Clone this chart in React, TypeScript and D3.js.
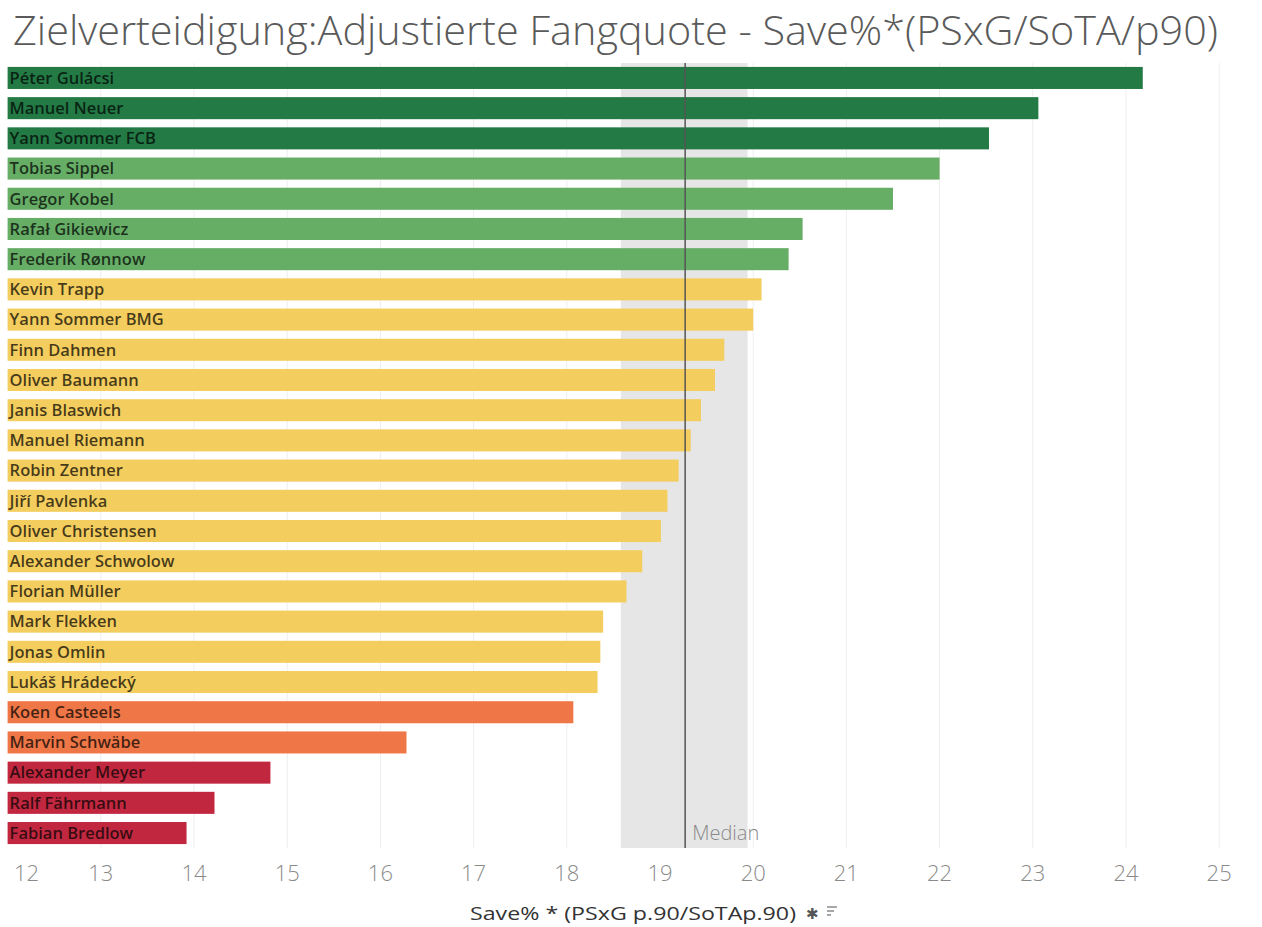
import React from "react";
import * as d3 from "d3";

const title = "Zielverteidigung:Adjustierte Fangquote - Save%*(PSxG/SoTA/p90)";
const axisTitle = "Save% * (PSxG p.90/SoTAp.90)";

const players = [
  "Péter Gulácsi", "Manuel Neuer", "Yann Sommer FCB", "Tobias Sippel", "Gregor Kobel",
  "Rafał Gikiewicz", "Frederik Rønnow", "Kevin Trapp", "Yann Sommer BMG", "Finn Dahmen",
  "Oliver Baumann", "Janis Blaswich", "Manuel Riemann", "Robin Zentner", "Jiří Pavlenka",
  "Oliver Christensen", "Alexander Schwolow", "Florian Müller", "Mark Flekken", "Jonas Omlin",
  "Lukáš Hrádecký", "Koen Casteels", "Marvin Schwäbe", "Alexander Meyer", "Ralf Fährmann",
  "Fabian Bredlow",
];

const values = [
  24.18, 23.06, 22.53, 22.0, 21.5,
  20.53, 20.38, 20.09, 20.0, 19.69,
  19.59, 19.44, 19.33, 19.2, 19.08,
  19.01, 18.81, 18.64, 18.39, 18.36,
  18.33, 18.07, 16.28, 14.82, 14.22,
  13.92,
];

const tiers = [
  "top", "top", "top", "good", "good",
  "good", "good", "mid", "mid", "mid",
  "mid", "mid", "mid", "mid", "mid",
  "mid", "mid", "mid", "mid", "mid",
  "mid", "low", "low", "bad", "bad",
  "bad",
];

const tierNames = ["top", "good", "mid", "low", "bad"];
const tierColors = ["#237a45", "#66ad66", "#f3cd5d", "#ee7647", "#c1283f"];

const medianValue = 19.27;
const bandRange = [18.58, 19.94];
const tickValues = [12, 13, 14, 15, 16, 17, 18, 19, 20, 21, 22, 23, 24, 25];
const domainX = [12, 25.1];

export default function App() {
  const W = 1262;
  const H = 927;
  const x = d3.scaleLinear().domain(domainX).range([7.6, 1228.5]);
  const y = d3
    .scaleBand<string>()
    .domain(players)
    .range([63, 848])
    .paddingInner(0.27)
    .paddingOuter(0.13);
  const color = d3.scaleOrdinal<string, string>().domain(tierNames).range(tierColors);
  const top = 63;
  const bottom = 848;

  return (
    <svg
      width={W}
      height={H}
      style={{ position: "absolute", left: 0, top: 0, background: "#fff" }}
      fontFamily="'Open Sans', sans-serif"
    >
      <text
        x={13}
        y={45}
        fontSize={40}
        fontWeight={300}
        fill="#5a5a5a"
        textLength={1205}
        lengthAdjust="spacingAndGlyphs"
      >
        {title}
      </text>

      {tickValues.slice(1).map((t) => (
        <line key={"g" + t} x1={x(t)} x2={x(t)} y1={top} y2={bottom} stroke="#eeeeee" strokeWidth={1} />
      ))}

      <rect
        x={x(bandRange[0])}
        y={top}
        width={x(bandRange[1]) - x(bandRange[0])}
        height={bottom - top}
        fill="#e6e6e6"
      />

      {players.map((p, i) => (
        <g key={p}>
          <rect
            x={x(12)}
            y={y(p)}
            width={x(values[i]) - x(12)}
            height={y.bandwidth()}
            fill={color(tiers[i])}
          />
          <text
            x={x(12) + 2}
            y={(y(p) as number) + y.bandwidth() / 2}
            dy="0.35em"
            fontSize={16.5}
            fontWeight={600}
            fill="#000"
            fillOpacity={0.72}
          >
            {p}
          </text>
        </g>
      ))}

      <line x1={x(medianValue)} x2={x(medianValue)} y1={top} y2={bottom} stroke="#555" strokeWidth={1.5} />
      <text x={x(medianValue) + 7} y={840} fontSize={20} fill="#8a8a8a" fontWeight={300}>
        Median
      </text>

      {tickValues.map((t, i) => (
        <text
          key={"t" + t}
          x={i === 0 ? x(t) + 19 : x(t)}
          y={881}
          textAnchor="middle"
          fontSize={22}
          fontWeight={300}
          fill="#8a8a8a"
        >
          {t}
        </text>
      ))}

      <text x={633} y={920} textAnchor="middle" fontSize={18} fill="#333" textLength={326} lengthAdjust="spacingAndGlyphs">
        {axisTitle}
      </text>
      <text x={806} y={919} fontSize={15} fill="#555">✱</text>
      <g stroke="#777" strokeWidth={1.3}>
        <line x1={827} x2={837} y1={907} y2={907} />
        <line x1={827} x2={834} y1={911} y2={911} />
        <line x1={827} x2={831} y1={915} y2={915} />
      </g>
    </svg>
  );
}
